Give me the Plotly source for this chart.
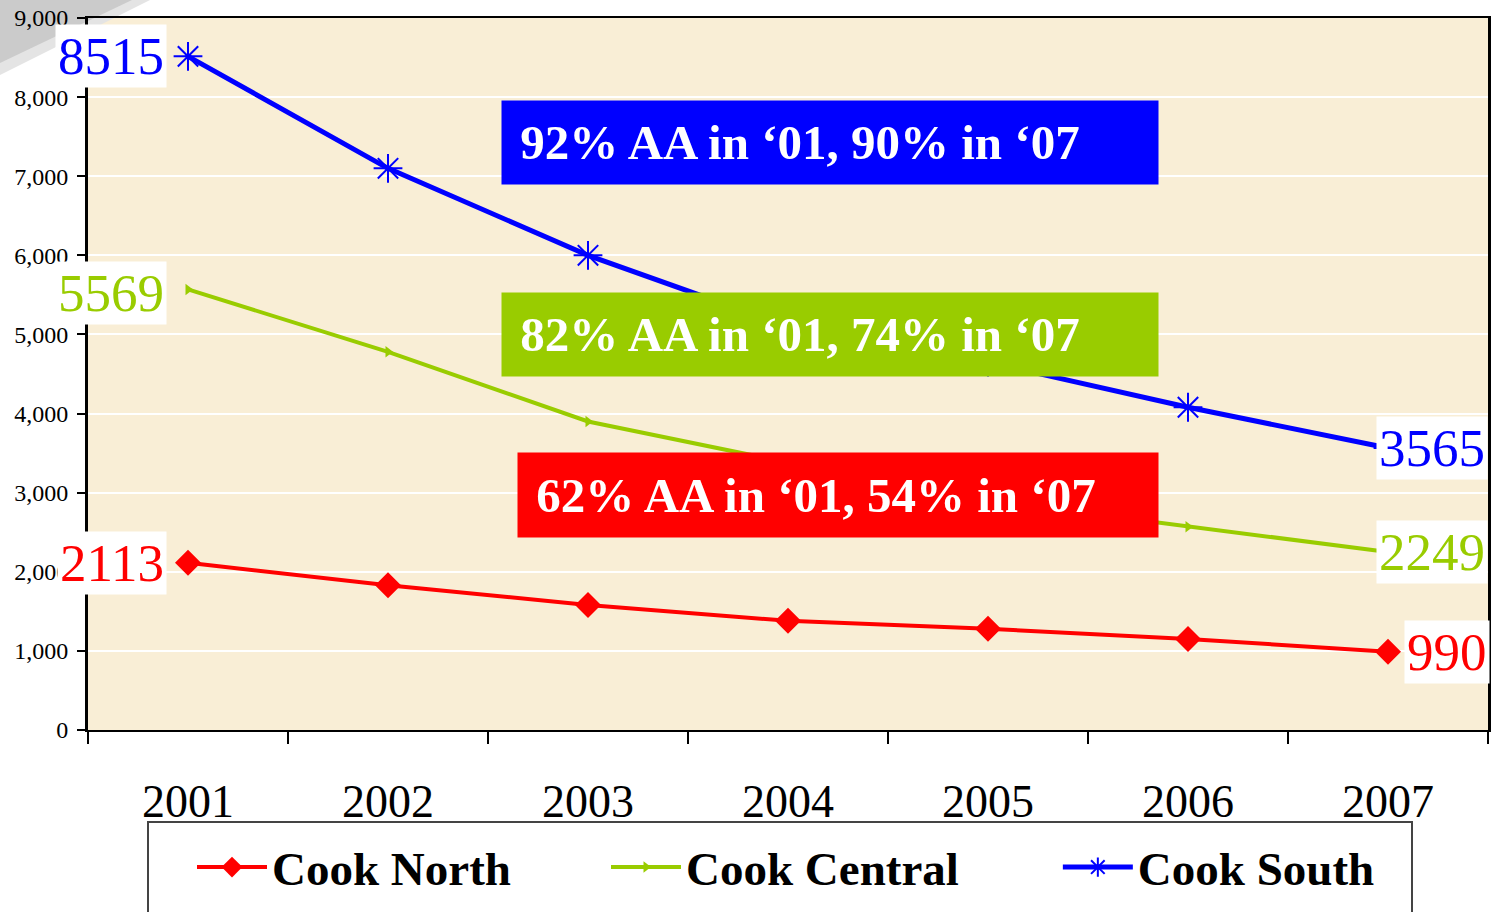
import plotly.graph_objects as go

years = ["2001", "2002", "2003", "2004", "2005", "2006", "2007"]
cook_north = [2113, 1830, 1580, 1380, 1280, 1150, 990]
cook_central = [5569, 4780, 3900, 3380, 2900, 2570, 2249]
cook_south = [8515, 7100, 6000, 5100, 4650, 4080, 3565]

series_names = ["Cook North", "Cook Central", "Cook South"]
box_texts = ["92% AA in \u201801, 90% in \u201807",
             "82% AA in \u201801, 74% in \u201807",
             "62% AA in \u201801, 54% in \u201807"]
y_ticks = [0, 1000, 2000, 3000, 4000, 5000, 6000, 7000, 8000, 9000]

RED = "#FF0000"
GREEN = "#99CC00"
BLUE = "#0000FF"
FONT = "Liberation Serif"
PAD1 = "\u00a0" * 7 + "\u2006"
PAD2 = "\u00a0" * 7 + "\u2005"

fig = go.Figure()
fig.add_trace(go.Scatter(x=years, y=cook_north, name=series_names[0] + PAD1, mode="lines+markers",
                         line=dict(color=RED, width=4),
                         marker=dict(symbol="diamond", size=20, color=RED)))
fig.add_trace(go.Scatter(x=years, y=cook_central, name=series_names[1] + PAD2, mode="lines+markers",
                         line=dict(color=GREEN, width=4),
                         marker=dict(symbol="triangle-right", size=10, color=GREEN)))
fig.add_trace(go.Scatter(x=years, y=cook_south, name=series_names[2], mode="lines+markers",
                         line=dict(color=BLUE, width=5),
                         marker=dict(symbol="asterisk-open", size=24, color=BLUE,
                                     line=dict(color=BLUE, width=2))))

ann = []
first_i = 0
last_i = len(years) - 1
# data labels
for vals, col, ys in [(cook_south, BLUE, 0), (cook_central, GREEN, -4), (cook_north, RED, 0)]:
    ann.append(dict(x=first_i, y=vals[first_i], xref="x", yref="y", text=str(vals[first_i]),
                    showarrow=False, xanchor="right", yanchor="middle", xshift=-21, yshift=ys,
                    bgcolor="white", borderpad=2,
                    font=dict(family=FONT, size=53, color=col)))
for vals, col, xs in [(cook_south, BLUE, -12), (cook_central, GREEN, -12), (cook_north, RED, 16)]:
    ann.append(dict(x=last_i, y=vals[last_i], xref="x", yref="y", text=str(vals[last_i]),
                    showarrow=False, xanchor="left", yanchor="middle", xshift=xs,
                    bgcolor="white", borderpad=2,
                    font=dict(family=FONT, size=53, color=col)))

# colored text boxes
def px_x(p):
    return (p - 88) / 1400.0

def px_y(p):
    return (730 - p) / 712.0

for txt, col, left, w, top, bot in [(box_texts[0], BLUE, 501, 656, 101, 184),
                                     (box_texts[1], GREEN, 501, 656, 293, 376),
                                     (box_texts[2], RED, 517, 640, 453, 537)]:
    ann.append(dict(x=px_x(left), y=px_y((top + bot) / 2), xref="paper", yref="paper",
                    text="\u2006" + txt, showarrow=False, xanchor="left", yanchor="middle",
                    align="left", width=w - 20, height=(bot - top) - 20, borderpad=10,
                    bgcolor=col,
                    font=dict(family=FONT, size=49, color="white", weight="bold")))

shapes = [
    # grey slide decoration at top-left
    dict(type="path", xref="paper", yref="paper", layer="below",
         path="M %f %f L %f %f L %f %f Z" % (px_x(0), px_y(0), px_x(150), px_y(0), px_x(0), px_y(75)),
         fillcolor="#E4E4E4", line=dict(width=0)),
    dict(type="path", xref="paper", yref="paper", layer="below",
         path="M %f %f L %f %f L %f %f Z" % (px_x(0), px_y(0), px_x(132), px_y(0), px_x(0), px_y(63)),
         fillcolor="#CBCBCB", line=dict(width=0)),
    # legend frame
    dict(type="rect", xref="paper", yref="paper", layer="above",
         x0=px_x(148), x1=px_x(1412), y0=px_y(940), y1=px_y(822),
         fillcolor="white", line=dict(color="#444444", width=2)),
]

fig.update_layout(
    width=1493, height=912,
    margin=dict(l=88, r=5, t=18, b=182, autoexpand=False),
    paper_bgcolor="white",
    plot_bgcolor="#F9EED6",
    font=dict(family=FONT, color="black"),
    showlegend=True,
    legend=dict(orientation="h", x=px_x(192), y=px_y(830), xanchor="left", yanchor="top",
                bgcolor="rgba(0,0,0,0)", borderwidth=0, itemwidth=70,
                font=dict(family=FONT, size=47, color="black", weight="bold")),
    annotations=ann,
    shapes=shapes,
)
fig.update_xaxes(type="category", range=[-0.5, 6.5], tickson="boundaries",
                 ticks="outside", ticklen=12, tickwidth=2, tickcolor="black",
                 showline=True, linecolor="black", linewidth=2, mirror=True,
                 showgrid=False, ticklabelstandoff=30,
                 tickfont=dict(family=FONT, size=46, color="black"))
fig.update_yaxes(range=[0, 9000], tickvals=y_ticks, tickformat=",",
                 ticks="outside", ticklen=8, tickwidth=2, tickcolor="black",
                 showline=True, linecolor="black", linewidth=3, mirror=True,
                 showgrid=True, gridcolor="white", gridwidth=2, zeroline=False,
                 ticklabelstandoff=4,
                 tickfont=dict(family=FONT, size=24, color="black"))

fig.write_html("out.html", config={"displayModeBar": False},
               post_script="document.body.style.margin='0';document.body.style.overflow='hidden';")
